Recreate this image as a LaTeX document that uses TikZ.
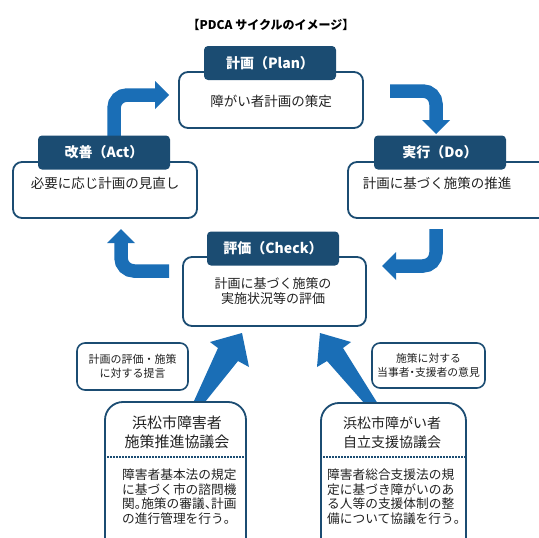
\documentclass[tikz,border=0pt]{standalone}
\usepackage{fontspec}
\setmainfont{Noto Sans CJK JP}
\newfontfamily\haltfont[RawFeature=+halt]{Noto Sans CJK JP}
\newcommand\hw[1]{{\haltfont #1}}
\usetikzlibrary{calc}
\definecolor{navy}{HTML}{1B4C72}
\definecolor{arrblue}{HTML}{1A6EB6}
\definecolor{txt}{HTML}{222222}
\begin{document}
\begin{tikzpicture}[x=1pt,y=-1pt,
  bodybox/.style={draw=navy, line width=1.8pt, fill=white, rounded corners=9pt, inner sep=0pt},
  smallbox/.style={draw=navy, line width=1.6pt, fill=white, rounded corners=8pt, inner sep=0pt},
  bigbox/.style={draw=navy, line width=1.8pt, fill=white, rounded corners=18pt, inner sep=0pt},
  hdr/.style={fill=navy, rounded corners=4pt, text=white, font=\bfseries\fontsize{14}{14}\selectfont, minimum width=132pt, minimum height=34pt, inner sep=0pt},
  bodytxt/.style={text=txt, font=\fontsize{13.5}{15}\selectfont, align=center, inner sep=0pt},
  shaft/.style={draw=arrblue, line width=13.5pt, rounded corners=13pt},
  head/.style={fill=arrblue},
  dotline/.style={draw=navy, line width=1.6pt, dash pattern=on 1.4pt off 1.6pt}]
\useasboundingbox (0,0) rectangle (539,538);
\clip (0,0) rectangle (539,538);
\fill[white] (0,0) rectangle (539,538);

% title
\node[font=\bfseries\fontsize{12}{12}\selectfont, text=black] (title) at (271,25) {【PDCA サイクルのイメージ】};

% cycle arrows (behind boxes)
\coordinate (a1s) at (114,142);
\coordinate (a1e) at (156,95);
\draw[shaft] (a1s) |- (a1e);
\fill[head] (155,81) -- (169,95) -- (155,109) -- cycle;

\coordinate (a2s) at (390,91);
\coordinate (a2e) at (436,121);
\draw[shaft] (a2s) -| (a2e);
\fill[head] (422,120) -- (450,120) -- (436,134) -- cycle;

\coordinate (a3s) at (436,229);
\coordinate (a3e) at (395,266);
\draw[shaft] (a3s) |- (a3e);
\fill[head] (396,252) -- (396,280) -- (382,266) -- cycle;

\coordinate (a4s) at (169,271);
\coordinate (a4e) at (121,242);
\draw[shaft] (a4s) -| (a4e);
\fill[head] (107,243) -- (135,243) -- (121,229) -- cycle;

% PDCA boxes
\node[bodybox, minimum width=184pt, minimum height=56pt] (planbox) at (271,100) {};
\node[hdr] (planhdr) at (270,63) {計画（Plan）};
\node[bodytxt] (plantxt) at (271,101) {障がい者計画の策定};

\node[bodybox, minimum width=184pt, minimum height=56pt] (actbox) at (105,190) {};
\node[hdr] (acthdr) at (104,152.5) {改善（Act）};
\node[bodytxt] (acttxt) at (105,183) {必要に応じ計画の見直し};

\node[bodybox, minimum width=200pt, minimum height=56pt] (dobox) at (448,190) {};
\node[hdr] (dohdr) at (440,152.5) {実行（Do）};
\node[bodytxt] (dotxt) at (437,183) {計画に基づく施策の推進};

\node[bodybox, minimum width=183pt, minimum height=69pt] (checkbox) at (274.5,291.5) {};
\node[hdr] (checkhdr) at (273,248.5) {評価（Check）};
\node[bodytxt, font=\fontsize{13}{15}\selectfont] (checktxt) at (273,291) {計画に基づく施策の\\実施状況等の評価};

% small boxes
\node[smallbox, minimum width=111pt, minimum height=47pt] (lsbox) at (132.5,366.5) {};
\node[bodytxt, font=\fontsize{11}{14}\selectfont] (lstxt) at (132.5,366.5) {計画の評価・施策\\に対する提言};
\node[smallbox, minimum width=113pt, minimum height=45pt] (rsbox) at (428.5,365.5) {};
\node[bodytxt, font=\fontsize{10.8}{14.5}\selectfont] (rstxt) at (428.5,365.5) {施策に対する\\当事者\hw{・}支援者の意見};

% big arrows from bottom boxes to Check (drawn behind the bottom boxes)
\coordinate (ltip) at (242,333);
\coordinate (ltail) at (193,412);
\fill[arrblue] ($(ltail)+(-4,0)$) -- ($(ltail)+(4,0)$) -- (238,361) -- (249,367) -- (ltip) -- (210,342) -- (218,348) -- cycle;
\coordinate (rtip) at (320,333);
\coordinate (rtail) at (377,412);
\fill[arrblue] ($(rtail)+(6,0)$) -- ($(rtail)+(-5,0)$) -- (327,361) -- (317,367) -- (rtip) -- (351,342) -- (343,348) -- cycle;

% bottom boxes
\node[bigbox, minimum width=141pt, minimum height=178pt] (lbox) at (175.5,491) {};
\node[bodytxt, font=\fontsize{15}{19}\selectfont] (ltitle) at (177,432.5) {浜松市障害者\\施策推進協議会};
\draw[dotline] ($(lbox.north west)+(0,56)$) -- ($(lbox.north east)+(0,56)$);
\node[bodytxt, font=\fontsize{12.7}{14.5}\selectfont, align=left, anchor=west] (ldesc) at (122,496.5) {障害者基本法の規定\\に基づく市の諮問機\\関\hw{。}施策の審議\hw{、}計画\\の進行管理を行う\hw{。}};

\node[bigbox, minimum width=145pt, minimum height=178pt] (rbox) at (393.5,492) {};
\node[bodytxt, font=\fontsize{14}{19}\selectfont] (rtitle) at (392,432.5) {浜松市障がい者\\自立支援協議会};
\draw[dotline] ($(rbox.north west)+(0,55)$) -- ($(rbox.north east)+(0,55)$);
\node[bodytxt, font=\fontsize{12.7}{14.5}\selectfont, align=left, anchor=west] (rdesc) at (327,496.5) {障害者総合支援法の規\\定に基づき障がいのあ\\る人等の支援体制の整\\備について協議を行う\hw{。}};
\end{tikzpicture}
\end{document}
